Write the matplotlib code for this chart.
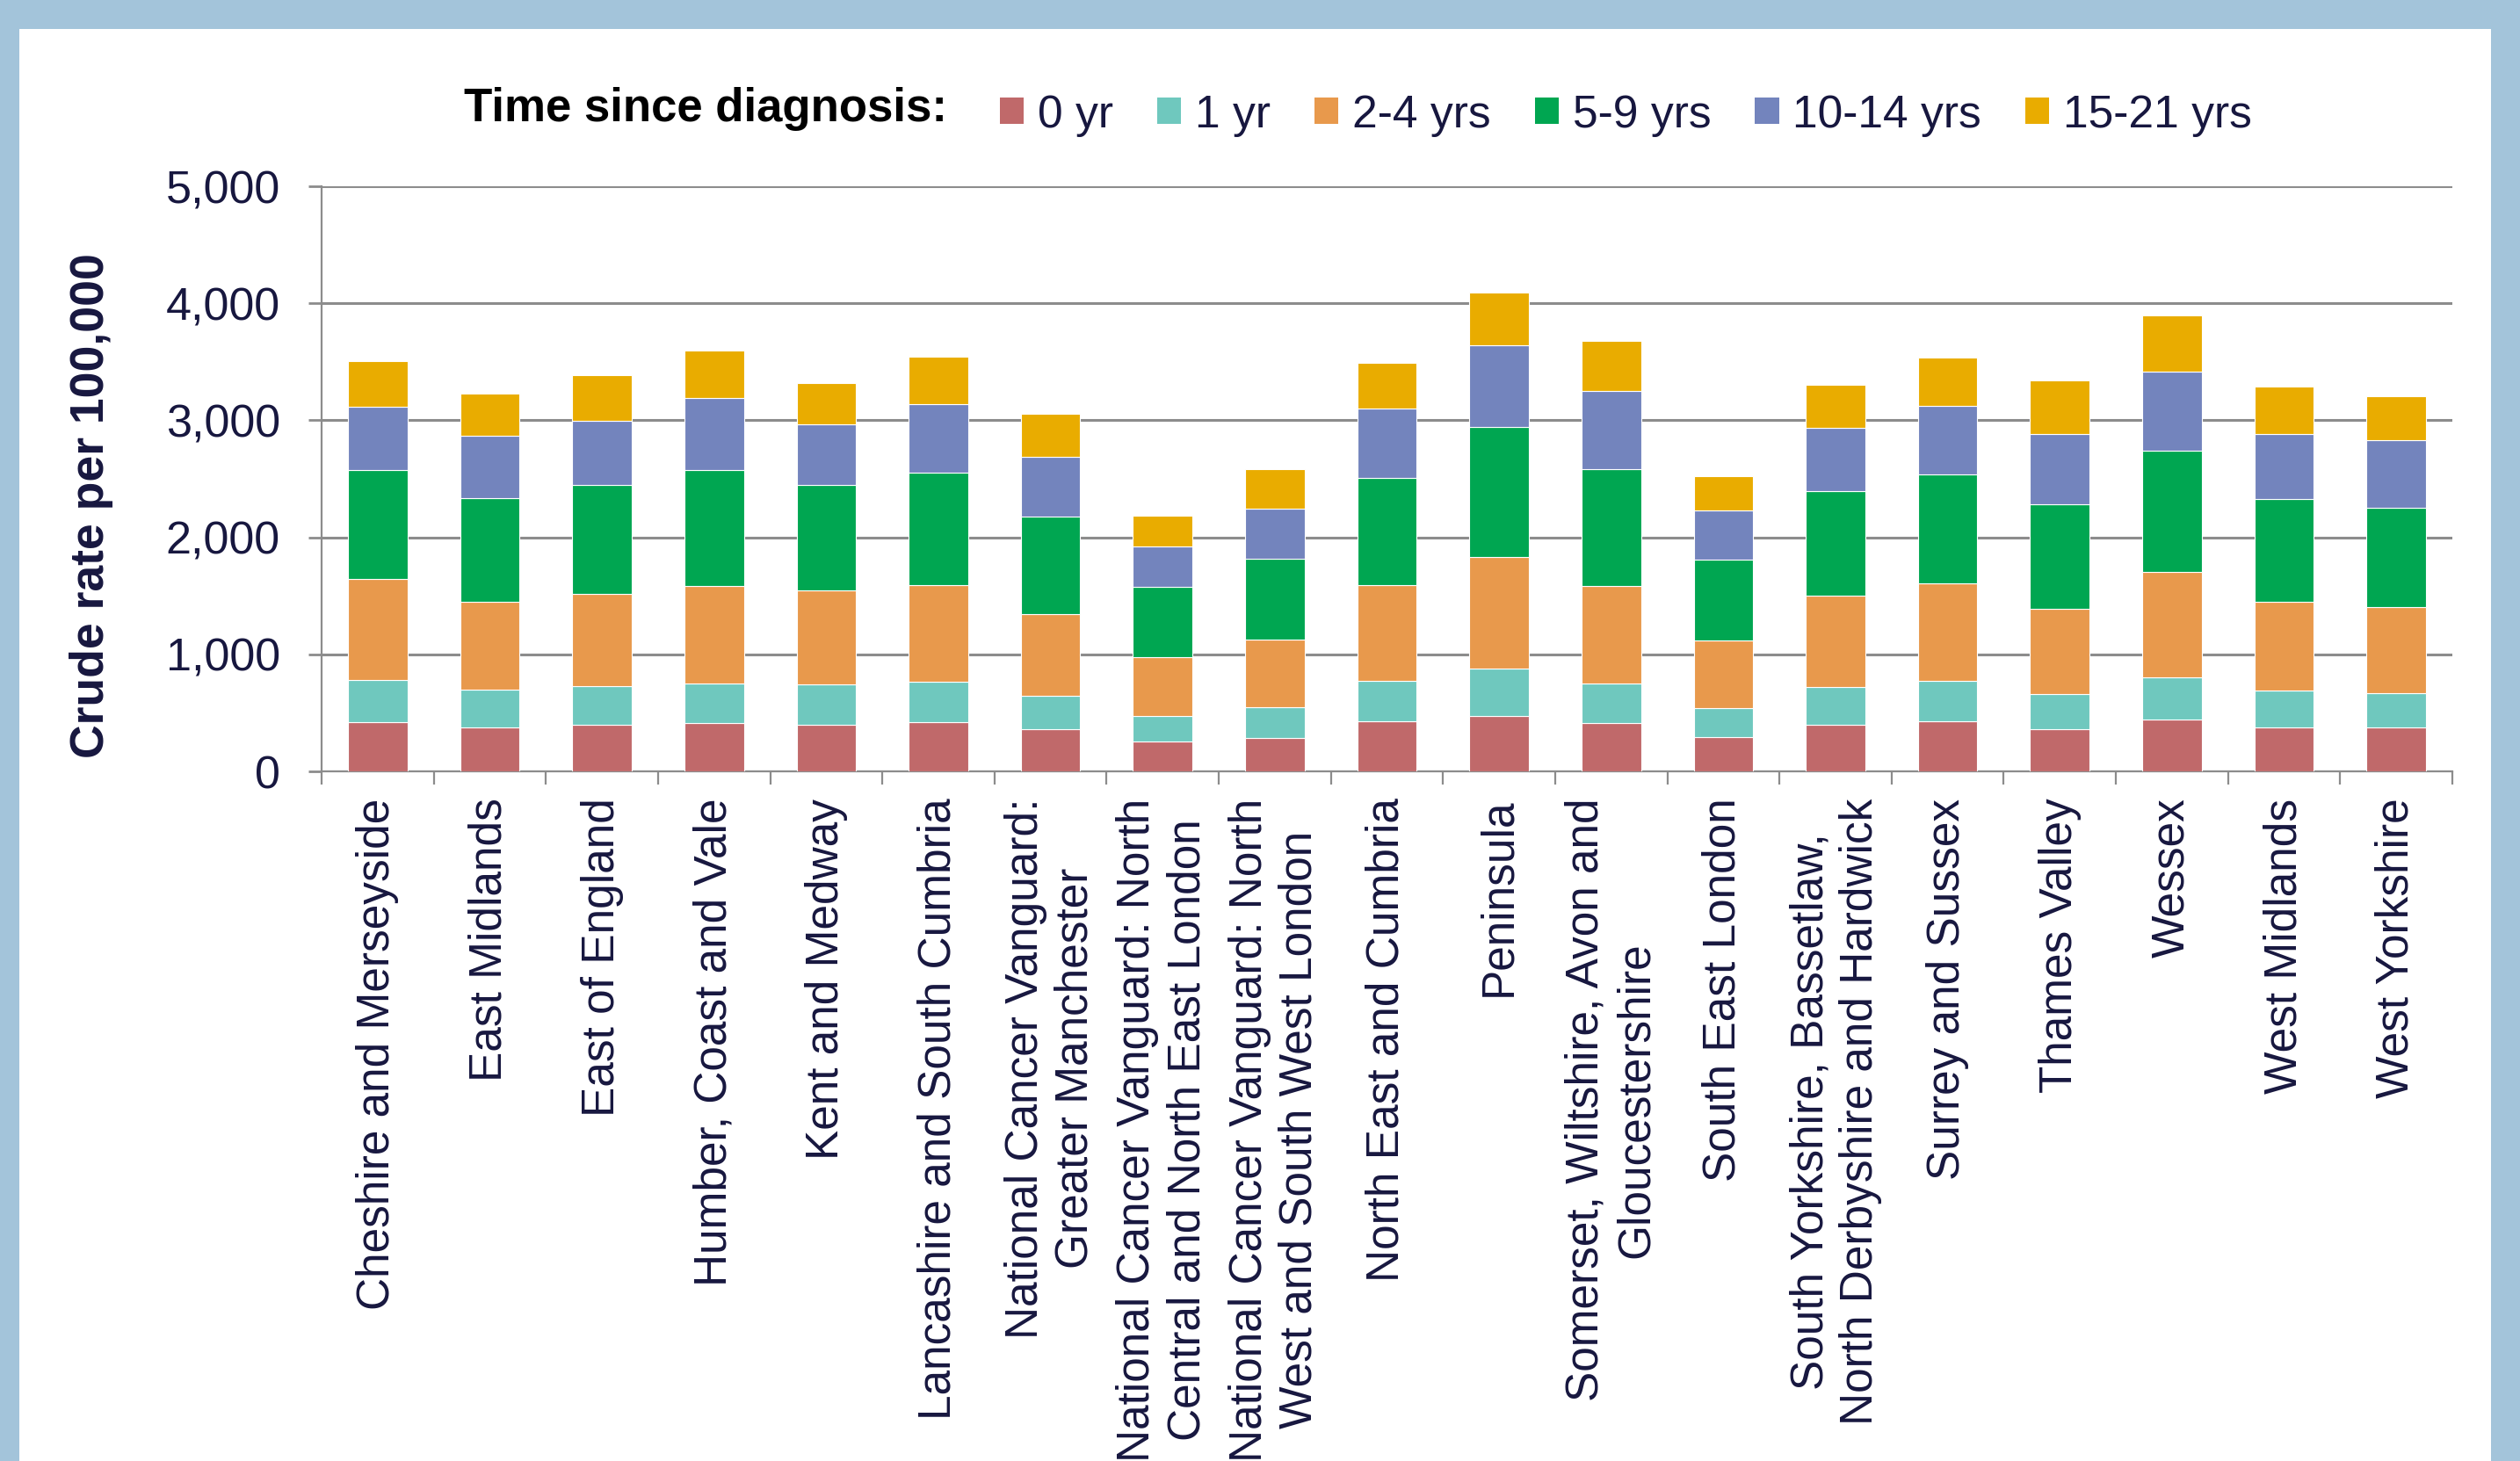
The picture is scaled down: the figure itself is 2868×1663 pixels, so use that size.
import matplotlib
matplotlib.use("Agg")
import matplotlib.pyplot as plt
from matplotlib.patches import Rectangle, Patch
from matplotlib.ticker import FuncFormatter, FixedLocator
import numpy as np

plt.rcParams['font.family'] = ['Liberation Sans', 'DejaVu Sans']

categories = [
    "Cheshire and Merseyside",
    "East Midlands",
    "East of England",
    "Humber, Coast and Vale",
    "Kent and Medway",
    "Lancashire and South Cumbria",
    "National Cancer Vanguard:\nGreater Manchester",
    "National Cancer Vanguard: North\nCentral and North East London",
    "National Cancer Vanguard: North\nWest and South West London",
    "North East and Cumbria",
    "Peninsula",
    "Somerset, Wiltshire, Avon and\nGloucestershire",
    "South East London",
    "South Yorkshire, Bassetlaw,\nNorth Derbyshire and Hardwick",
    "Surrey and Sussex",
    "Thames Valley",
    "Wessex",
    "West Midlands",
    "West Yorkshire",
]

series_names = ["0 yr", "1 yr", "2-4 yrs", "5-9 yrs", "10-14 yrs", "15-21 yrs"]

# cumulative tops
cum_0yr   = [424, 379, 400, 410, 400, 417, 359, 259, 286, 428, 476, 410, 290, 400, 428, 359, 441, 372, 372]
cum_1yr   = [779, 697, 728, 752, 741, 766, 645, 472, 545, 772, 879, 752, 538, 724, 776, 659, 807, 690, 669]
cum_2_4   = [1645, 1448, 1517, 1583, 1545, 1590, 1345, 979, 1128, 1590, 1831, 1583, 1117, 1500, 1607, 1390, 1703, 1452, 1403]
cum_5_9   = [2576, 2338, 2448, 2576, 2448, 2552, 2176, 1576, 1814, 2507, 2941, 2586, 1807, 2393, 2541, 2279, 2738, 2324, 2255]
cum_10_14 = [3117, 2866, 2997, 3193, 2969, 3138, 2686, 1921, 2248, 3100, 3638, 3248, 2231, 2938, 3121, 2886, 3414, 2886, 2828]
cum_15_21 = [3507, 3231, 3386, 3597, 3317, 3541, 3055, 2186, 2583, 3493, 4093, 3679, 2524, 3303, 3538, 3341, 3900, 3290, 3207]

colors = ["#C0696A", "#6FC8BE", "#E8994C", "#00A651", "#7384BD", "#E9AC00"]

cums = np.array([cum_0yr, cum_1yr, cum_2_4, cum_5_9, cum_10_14, cum_15_21], dtype=float)
vals = np.diff(np.vstack([np.zeros(len(categories)), cums]), axis=0)

W, H = 2868, 1663
fig = plt.figure(figsize=(W / 100, H / 100), dpi=100)
fig.patch.set_facecolor("#A3C4DA")
fig.patches.append(Rectangle((22 / W, 0), (2835 - 22) / W, (H - 33) / H,
                             transform=fig.transFigure, facecolor="white",
                             edgecolor="none", zorder=-10))

ax = fig.add_axes([366 / W, (H - 878) / H, (2791 - 366) / W, (878 - 212) / H])
ax.set_facecolor("none")
ax.set_zorder(5)

text_color = "#17173F"
grid_color = "#8C8C8C"

x = np.arange(len(categories))
bottom = np.zeros(len(categories))
for i, name in enumerate(series_names):
    ax.bar(x, vals[i], bottom=bottom, width=0.53, color=colors[i],
           edgecolor="white", linewidth=0.8, label=name, zorder=3)
    bottom += vals[i]

ax.set_ylim(0, 5000)
ax.set_xlim(-0.5, len(categories) - 0.5)
ax.set_yticks(np.arange(0, 5001, 1000))
ax.yaxis.set_major_formatter(FuncFormatter(lambda v, p: f"{int(v):,}"))
ax.grid(axis="y", color=grid_color, linewidth=2.2, zorder=1)
ax.set_axisbelow(True)

for s in ["top", "right"]:
    ax.spines[s].set_visible(False)
for s in ["left", "bottom"]:
    ax.spines[s].set_color(grid_color)
    ax.spines[s].set_linewidth(1.6)

ax.tick_params(axis="y", length=11, width=2.0, color=grid_color, pad=23,
               labelsize=37.5, labelcolor=text_color)

ax.set_xticks(x)
ax.set_xticklabels(categories, rotation=90, ha="center", va="top",
                   multialignment="center", fontsize=37, color=text_color,
                   linespacing=1.2)
ax.tick_params(axis="x", which="major", length=0, pad=22)
ax.xaxis.set_minor_locator(FixedLocator(np.arange(-0.5, len(categories), 1.0)))
ax.tick_params(axis="x", which="minor", length=11, width=1.6, color=grid_color)

fig.text(104 / W, 1 - 576 / H, "Crude rate per 100,000", rotation=90,
         ha="center", va="center", fontsize=38.5, fontweight="bold", color=text_color)

fig.text(528 / W, 1 - 124 / H, "Time since diagnosis:", ha="left", va="center",
         fontsize=38, fontweight="bold", color="black")

handles = [Patch(facecolor=c, edgecolor="none") for c in colors]
leg = fig.legend(handles, series_names, ncol=6, loc="center left",
                 bbox_to_anchor=(1138 / W, 1 - 131 / H), frameon=False,
                 fontsize=37.2, handlelength=0.53, handleheight=0.53,
                 handletextpad=0.3, columnspacing=0.97, borderpad=0,
                 borderaxespad=0)
for t in leg.get_texts():
    t.set_color(text_color)

fig.savefig("out.png", dpi=100)
